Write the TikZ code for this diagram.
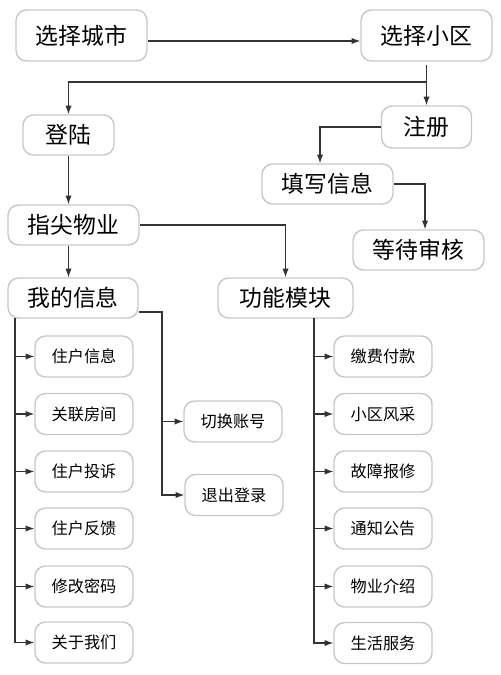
\documentclass[tikz,border=0pt]{standalone}
\usepackage{fontspec}
\setmainfont{Noto Sans CJK SC}
\usetikzlibrary{arrows.meta, positioning}

\begin{document}
\begin{tikzpicture}[x=0.02cm, y=-0.02cm, >={Latex[length=5pt,width=3.6pt]}, line width=0.6pt]
	\tikzset{big/.style={draw=black!22, line width=0.8pt, rounded corners=6pt, minimum width=2.62cm, minimum height=0.8cm, inner sep=0pt, font=\fontsize{13}{15}\selectfont}}
	\tikzset{small/.style={big, minimum width=1.96cm, minimum height=0.82cm, font=\fontsize{9.2}{11}\selectfont}}
	\tikzset{link/.style={->, draw=black!80}, trunk/.style={draw=black!80}}
	\useasboundingbox (0,0) rectangle (500,675);
	\node[big, minimum height=1.02cm] (city) at (81.5,35.5) {选择城市};
	\node[big, minimum height=1.02cm] (estate) at (426.5,35.5) {选择小区};
	\node[big, minimum width=1.82cm] (login) at (68.5,135) {登陆};
	\node[big, minimum width=1.8cm, minimum height=0.84cm] (signup) at (426.5,127) {注册};
	\node[big] (fill) at (327.5,184) {填写信息};
	\node[big] (wait) at (418.5,250) {等待审核};
	\node[big] (home) at (73.5,225) {指尖物业};
	\node[big, minimum width=2.6cm] (mine) at (73,298) {我的信息};
	\node[big, minimum width=2.7cm] (func) at (285.5,298) {功能模块};
	\node[small] (m1) at (84,356.5) {住户信息};
	\node[small] (m2) at (84,414) {关联房间};
	\node[small] (m3) at (84,471.5) {住户投诉};
	\node[small] (m4) at (84,528.5) {住户反馈};
	\node[small] (m5) at (84,586.5) {修改密码};
	\node[small] (m6) at (84,642.5) {关于我们};
	\node[small] (switch) at (233,421.5) {切换账号};
	\node[small] (logout) at (234,495) {退出登录};
	\node[small] (f1) at (383,356.5) {缴费付款};
	\node[small] (f2) at (383,414) {小区风采};
	\node[small] (f3) at (383,471.5) {故障报修};
	\node[small] (f4) at (383,528.5) {通知公告};
	\node[small] (f5) at (383,586.5) {物业介绍};
	\node[small] (f6) at (383,643) {生活服务};
	% top row
	\coordinate (fork) at (426.5,82);
	\draw[link] ([yshift=-1.1mm]city.east) -- ([yshift=-1.1mm]estate.west);
	\draw[trunk, shorten <=2pt] (estate.south) -- (fork);
	\draw[link] (fork) -| (login.north);
	\draw[link] (fork) -- (signup.north);
	\draw[link] (signup.west) -| ([xshift=-1.5mm]fill.north);
	\draw[link] (fill.east) -| ([xshift=1.3mm]wait.north);
	\draw[link] (login) -- (home.north -| login);
	\draw[link] (home.south -| login) -- (mine.north -| login);
	\draw[link] (home.east) -| (func.north);
	% my info
	\coordinate (lt) at (15,318);
	\draw[link] (lt) |- (m6.west);
	\draw[link] (lt |- m1) -- (m1.west);
	\draw[link] (lt |- m2) -- (m2.west);
	\draw[link] (lt |- m3) -- (m3.west);
	\draw[link] (lt |- m4) -- (m4.west);
	\draw[link] (lt |- m5) -- (m5.west);
	\coordinate (mt) at (162,312);
	\draw[link] (mine.east |- mt) -- (mt) |- (logout.west);
	\draw[link] (mt |- switch) -- (switch.west);
	% functions
	\coordinate (rt) at (314,318);
	\draw[link] (rt) |- (f6.west);
	\draw[link] (rt |- f1) -- (f1.west);
	\draw[link] (rt |- f2) -- (f2.west);
	\draw[link] (rt |- f3) -- (f3.west);
	\draw[link] (rt |- f4) -- (f4.west);
	\draw[link] (rt |- f5) -- (f5.west);
\end{tikzpicture}
\end{document}
